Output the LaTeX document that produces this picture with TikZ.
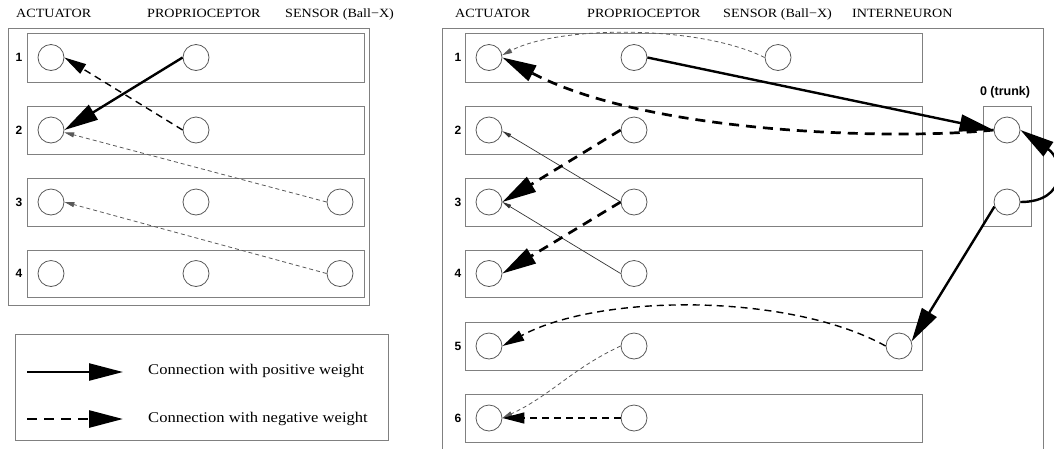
\documentclass[tikz,border=0pt]{standalone}
\usepackage{fontspec}
\setmainfont{Liberation Serif}
\newfontfamily\hdrfont[FakeStretch=1.12]{Liberation Serif}
\newfontfamily\numfont{Liberation Sans}
\usetikzlibrary{arrows.meta}
\begin{document}
\begin{tikzpicture}[x=1pt,y=-1pt,
  boxline/.style={draw=black!50, line width=0.9pt},
  neuron/.style={circle, draw=black!65, line width=0.8pt, minimum size=26pt, inner sep=0pt},
  hdr/.style={font=\hdrfont\fontsize{12.6}{14}\selectfont, anchor=base west, inner sep=0pt},
  lgtxt/.style={font=\hdrfont\fontsize{14.8}{16}\selectfont, anchor=base west, inner sep=0pt},
  rownum/.style={font=\numfont\bfseries\fontsize{12}{14}\selectfont, inner sep=0pt},
  posthick/.style={line width=2.4pt, -{Triangle[length=34pt,width=17pt]}},
  negthick/.style={line width=2.7pt, dash pattern=on 10pt off 7pt, -{Triangle[length=34pt,width=17pt]}},
  negmed/.style={line width=1.4pt, dash pattern=on 7pt off 5pt, -{Triangle[length=22pt,width=11pt]}},
  negthin/.style={line width=0.8pt, draw=black!65, dash pattern=on 4pt off 3pt, -{Triangle[length=10pt,width=5pt]}},
  posthin/.style={line width=0.7pt, draw=black!80, -{Triangle[length=9pt,width=4pt]}}
]
\useasboundingbox (0,0) rectangle (1054,448);
\clip (0,0) rectangle (1054,448);

% headers
\node[hdr] (hla) at (16,17) {ACTUATOR};
\node[hdr] (hlp) at (147,17) {PROPRIOCEPTOR};
\node[hdr] (hls) at (285,17) {SENSOR (Ball−X)};
\node[hdr] (hra) at (455,17) {ACTUATOR};
\node[hdr] (hrp) at (587,17) {PROPRIOCEPTOR};
\node[hdr] (hrs) at (723,17) {SENSOR (Ball−X)};
\node[hdr] (hri) at (852,17) {INTERNEURON};

% frames
\draw[boxline] (8,28) rectangle (369,305);
\draw[boxline] (15,334) rectangle (388,440);
\draw[boxline] (442,28) rectangle (1043,470);
\draw[boxline] (983,106) rectangle (1031,226);

% row boxes
\foreach \t/\b in {33/82,106/154,178/226,250/297} {
  \draw[boxline] (27,\t) rectangle (364,\b);
}
\foreach \t/\b in {33/82,106/154,178/226,250/297,322/370,394/442} {
  \draw[boxline] (465,\t) rectangle (922,\b);
}

% row numbers
\foreach \i/\y in {1/57.5,2/130,3/202,4/273.5} {
  \node[rownum] (lnum\i) at (19,\y) {\i};
}
\foreach \i/\y in {1/57.5,2/130,3/202,4/273.5,5/346,6/418} {
  \node[rownum] (rnum\i) at (458,\y) {\i};
}
\node[font=\numfont\bfseries\fontsize{12.5}{14}\selectfont, inner sep=0pt] (trunklbl) at (1005,92) {0 (trunk)};

% left neurons
\foreach \i/\y in {1/57.5,2/130,3/202,4/273.5} {
  \node[neuron] (LA\i) at (51,\y) {};
  \node[neuron] (LP\i) at (196,\y) {};
}
\node[neuron] (LS3) at (340,202) {};
\node[neuron] (LS4) at (340,273.5) {};

% right neurons
\foreach \i/\y in {1/57.5,2/130,3/202,4/273.5,5/346,6/418} {
  \node[neuron] (RA\i) at (489,\y) {};
  \node[neuron] (RP\i) at (634,\y) {};
}
\node[neuron] (RS1) at (778,57.5) {};
\node[neuron] (RI5) at (899,346) {};
\node[neuron] (T0) at (1007,130) {};
\node[neuron] (T1) at (1007,202) {};

% left connections
\draw[posthick] (LP1.west) -- (LA2.east);
\draw[negmed] (LP2.west) -- (LA1.east);
\draw[negthin] (LS3.west) -- (LA2.-10);
\draw[negthin] (LS4.west) -- (LA3.east);

% right connections
\draw[negthin] (RS1.west) .. controls (700,25) and (560,25) .. (RA1.10);
\draw[posthick] (RP1.east) -- (T0.west);
\draw[negthick] (T0.west) .. controls (900,140) and (650,135) .. (RA1.east);
\draw[posthick] (T1.east) .. controls (1068,202) and (1064,160) .. (T0.east);
\draw[posthick] (T1.200) -- (RI5.20);
\draw[negmed] (RI5.west) .. controls (790,293) and (600,293) .. (RA5.east);
\draw[negthin] (RP5.west) to[out=205,in=25] (RA6.east);
\draw[negmed] (RP6.west) -- (RA6.east);
\draw[posthin] (RP3.west) -- (RA2.-5);
\draw[posthin] (RP4.west) -- (RA3.east);
\draw[negthick] (RP2.west) -- (RA3.east);
\draw[negthick] (RP3.west) -- (RA4.east);

% legend
\coordinate (lg1s) at (27,372);
\coordinate (lg1e) at (123,372);
\coordinate (lg2s) at (27,419);
\coordinate (lg2e) at (123,419);
\draw[posthick] (lg1s) -- (lg1e);
\draw[negthick] (lg2s) -- (lg2e);
\node[lgtxt] (lgt1) at (148,374) {Connection with positive weight};
\node[lgtxt] (lgt2) at (148,422) {Connection with negative weight};
\end{tikzpicture}
\end{document}
